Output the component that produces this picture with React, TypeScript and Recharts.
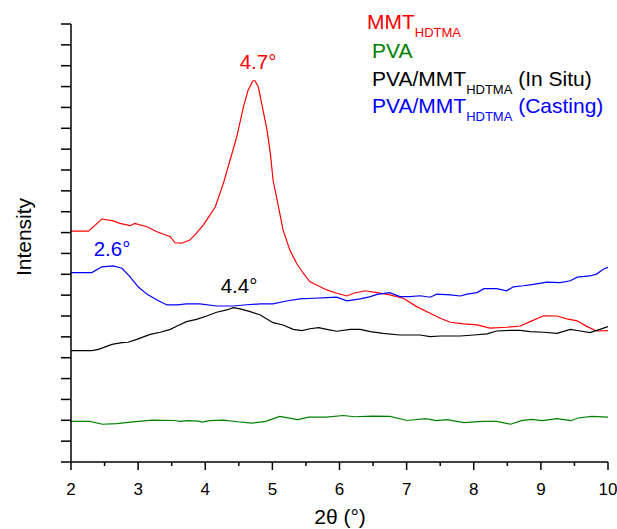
import React from 'react';
import { LineChart, Line, XAxis, YAxis } from 'recharts';

const FONT = '"Liberation Sans", Arial, Helvetica, sans-serif';

// 2θ positions and intensities (arbitrary units)
const mmtX = [2.0, 2.26, 2.46, 2.63, 2.73, 2.88, 2.95, 3.13, 3.28, 3.38, 3.48, 3.55, 3.65, 3.77, 3.87, 3.97, 4.02, 4.15, 4.27, 4.37, 4.47, 4.57, 4.64, 4.71, 4.74, 4.79, 4.84, 4.92, 4.97, 5.01, 5.09, 5.16, 5.26, 5.36, 5.46, 5.56, 5.66, 5.81, 5.96, 6.11, 6.21, 6.38, 6.56, 6.75, 6.95, 7.15, 7.35, 7.5, 7.65, 7.85, 8.05, 8.24, 8.49, 8.69, 8.84, 9.04, 9.24, 9.39, 9.54, 9.69, 9.83, 10.0];
const mmtY = [11.07, 11.07, 11.65, 11.56, 11.44, 11.33, 11.44, 11.28, 11.04, 10.92, 10.8, 10.51, 10.49, 10.64, 10.97, 11.36, 11.6, 12.24, 13.36, 14.48, 15.6, 17.04, 17.84, 18.28, 18.28, 17.99, 17.2, 15.92, 14.8, 13.52, 12.24, 11.12, 10.16, 9.53, 9.05, 8.64, 8.49, 8.25, 8.09, 7.96, 8.09, 8.21, 8.12, 8.01, 7.85, 7.45, 7.13, 6.89, 6.7, 6.62, 6.57, 6.42, 6.46, 6.52, 6.73, 7.01, 7.0, 6.86, 6.77, 6.49, 6.28, 6.3];

const pvaX = [2.0, 2.28, 2.47, 2.68, 2.89, 3.21, 3.53, 3.63, 3.74, 3.9, 3.95, 4.06, 4.27, 4.48, 4.69, 4.9, 5.11, 5.38, 5.54, 5.8, 6.06, 6.22, 6.49, 6.75, 7.01, 7.28, 7.44, 7.6, 7.86, 8.13, 8.34, 8.55, 8.71, 8.86, 9.02, 9.24, 9.45, 9.55, 9.76, 10.0];
const pvaY = [1.95, 1.95, 1.81, 1.84, 1.91, 2.01, 1.99, 1.95, 1.98, 1.96, 1.91, 1.98, 2.01, 1.93, 1.86, 1.95, 2.19, 2.03, 2.15, 2.15, 2.23, 2.17, 2.2, 2.19, 1.99, 2.08, 1.98, 2.03, 1.89, 1.95, 1.95, 1.81, 1.98, 2.04, 1.98, 2.08, 1.98, 2.11, 2.19, 2.15];

const inSituX = [2.0, 2.31, 2.41, 2.61, 2.76, 2.85, 2.98, 3.18, 3.33, 3.48, 3.58, 3.72, 3.87, 4.02, 4.17, 4.32, 4.42, 4.52, 4.67, 4.82, 5.01, 5.16, 5.31, 5.44, 5.56, 5.69, 5.81, 5.96, 6.16, 6.31, 6.46, 6.65, 6.9, 7.2, 7.35, 7.5, 7.8, 8.0, 8.2, 8.34, 8.54, 8.69, 8.84, 9.04, 9.24, 9.44, 9.59, 9.73, 9.88, 10.0];
const inSituY = [5.34, 5.34, 5.4, 5.64, 5.72, 5.74, 5.88, 6.12, 6.22, 6.36, 6.52, 6.73, 6.84, 7.0, 7.18, 7.29, 7.4, 7.34, 7.21, 7.05, 6.68, 6.57, 6.36, 6.3, 6.39, 6.44, 6.36, 6.27, 6.36, 6.36, 6.25, 6.17, 6.09, 6.09, 6.01, 6.04, 6.04, 6.09, 6.14, 6.28, 6.31, 6.31, 6.25, 6.22, 6.17, 6.36, 6.28, 6.2, 6.36, 6.49];

const castingX = [2.0, 2.31, 2.46, 2.63, 2.76, 2.88, 3.0, 3.13, 3.28, 3.43, 3.58, 3.72, 3.92, 4.17, 4.42, 4.62, 4.82, 5.01, 5.21, 5.41, 5.61, 5.81, 5.96, 6.11, 6.31, 6.46, 6.56, 6.75, 6.9, 7.05, 7.2, 7.35, 7.45, 7.65, 7.8, 7.9, 8.05, 8.15, 8.34, 8.49, 8.59, 8.74, 8.89, 9.09, 9.29, 9.44, 9.54, 9.73, 9.83, 9.93, 10.0];
const castingY = [9.08, 9.08, 9.36, 9.4, 9.29, 8.88, 8.4, 8.05, 7.77, 7.53, 7.53, 7.58, 7.58, 7.48, 7.48, 7.54, 7.58, 7.58, 7.72, 7.82, 7.85, 7.88, 7.9, 7.73, 7.82, 7.93, 8.04, 8.12, 7.93, 7.93, 7.97, 7.9, 8.05, 8.01, 7.96, 8.05, 8.12, 8.31, 8.31, 8.21, 8.4, 8.45, 8.52, 8.62, 8.6, 8.69, 8.86, 8.92, 9.01, 9.24, 9.33];

const xTicks = [2, 2.5, 3, 3.5, 4, 4.5, 5, 5.5, 6, 6.5, 7, 7.5, 8, 8.5, 9, 9.5, 10];
const yTicks = Array.from({ length: 22 }, (_, i) => i);

const toPoints = (xs: number[], ys: number[]) => xs.map((x, i) => ({ x, y: ys[i] }));

const series = [
  { name: 'MMT', color: '#ff0000', data: toPoints(mmtX, mmtY) },
  { name: 'PVA', color: '#008000', data: toPoints(pvaX, pvaY) },
  { name: 'InSitu', color: '#000000', data: toPoints(inSituX, inSituY) },
  { name: 'Casting', color: '#0000ff', data: toPoints(castingX, castingY) },
];

const XTick = (props: any) => {
  const { x, y, payload } = props;
  const major = Number.isInteger(payload.value);
  return (
    <g>
      <line x1={x} x2={x} y1={y} y2={y + (major ? 8 : 4)} stroke="#000" strokeWidth={1.5} />
      {major && (
        <text x={x} y={y + 33} textAnchor="middle" fontSize={17} fontFamily={FONT} fill="#000">
          {payload.value}
        </text>
      )}
    </g>
  );
};

export default function App() {
  return (
    <div style={{ position: 'relative', width: 617, height: 529, background: '#fff' }}>
      <style>{'body{margin:0}'}</style>
      <LineChart width={617} height={529} margin={{ top: 24, right: 9, bottom: 37, left: 61 }}>
        <XAxis
          type="number"
          dataKey="x"
          domain={[2, 10]}
          ticks={xTicks}
          allowDataOverflow
          height={30}
          tickSize={0}
          tickMargin={0}
          tickLine={false}
          tick={<XTick />}
          interval={0}
          axisLine={{ stroke: '#000', strokeWidth: 1.5 }}
        />
        <YAxis
          type="number"
          dataKey="y"
          domain={[0, 21]}
          ticks={yTicks}
          width={10}
          tickSize={10}
          interval={0}
          tickFormatter={() => ''}
          tickLine={{ stroke: '#000', strokeWidth: 1.5 }}
          axisLine={{ stroke: '#000', strokeWidth: 1.5 }}
        />
        {series.map((s) => (
          <Line
            key={s.name}
            data={s.data}
            dataKey="y"
            type="linear"
            stroke={s.color}
            strokeWidth={1.2}
            dot={false}
            isAnimationActive={false}
          />
        ))}
      </LineChart>
      <svg
        width={617}
        height={529}
        style={{ position: 'absolute', left: 0, top: 0, pointerEvents: 'none' }}
        fontFamily={FONT}
      >
        {/* legend */}
        <text x={367} y={29} fontSize={21} fill="#ff0000">
          <tspan>MMT</tspan>
          <tspan fontSize={13} dy={8}>HDTMA</tspan>
        </text>
        <text x={372} y={58} fontSize={21} fill="#008000">PVA</text>
        <text x={372} y={86} fontSize={21} fill="#000">
          <tspan>PVA/MMT</tspan>
          <tspan fontSize={13} dy={8}>HDTMA</tspan>
          <tspan dy={-8}> (In Situ)</tspan>
        </text>
        <text x={372} y={113} fontSize={21} fill="#0000ff">
          <tspan>PVA/MMT</tspan>
          <tspan fontSize={13} dy={8}>HDTMA</tspan>
          <tspan dy={-8}> (Casting)</tspan>
        </text>

        {/* peak annotations */}
        <text x={258} y={69} fontSize={20.5} textAnchor="middle" fill="#ff0000">4.7°</text>
        <text x={112} y={256} fontSize={20.5} textAnchor="middle" fill="#0000ff">2.6°</text>
        <text x={239} y={293} fontSize={20.5} textAnchor="middle" fill="#000">4.4°</text>

        {/* axis titles */}
        <text x={340} y={524} fontSize={21} textAnchor="middle" fill="#000">2θ (°)</text>
        <text
          x={31}
          y={237}
          fontSize={21}
          textAnchor="middle"
          fill="#000"
          transform="rotate(-90, 31, 237)"
        >
          Intensity
        </text>
      </svg>
    </div>
  );
}
